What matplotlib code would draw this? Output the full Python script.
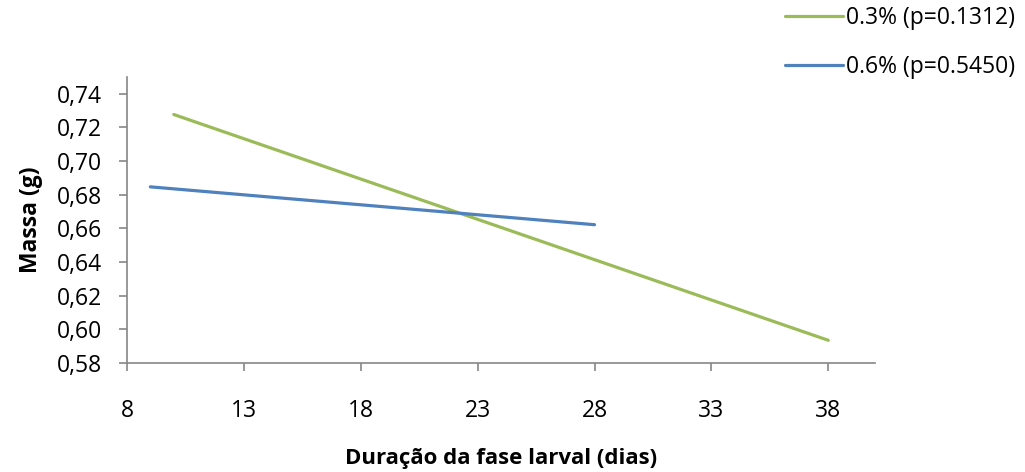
import matplotlib
matplotlib.use('Agg')
import matplotlib.pyplot as plt

# dados
x_03 = [10, 38]
y_03 = [0.7277, 0.5935]
x_06 = [9, 28]
y_06 = [0.6847, 0.6622]
labels = ['0.3% (p=0.1312)', '0.6% (p=0.5450)']
xticks = [8, 13, 18, 23, 28, 33, 38]
yticks = [0.58, 0.60, 0.62, 0.64, 0.66, 0.68, 0.70, 0.72, 0.74]

plt.rcParams['font.family'] = ['Open Sans', 'DejaVu Sans']

fig = plt.figure(figsize=(10.25, 4.72), dpi=100)
ax = fig.add_axes([0.1239, 0.2309, 0.7298, 0.6060])

l1, = ax.plot(x_03, y_03, color='#9BBB59', lw=2.3, solid_capstyle='round', label=labels[0])
l2, = ax.plot(x_06, y_06, color='#4F81BD', lw=2.3, solid_capstyle='round', label=labels[1])

ax.set_xlim(8, 40)
ax.set_ylim(0.58, 0.75)
ax.set_xticks(xticks)
ax.set_yticks(yticks)
ax.set_yticklabels([('%.2f' % v).replace('.', ',') for v in yticks])
ax.tick_params(axis='both', labelsize=16.5, color='#868686', length=6, width=1.2)
ax.tick_params(axis='x', pad=20)
ax.tick_params(axis='y', pad=12)

for s in ['top', 'right']:
    ax.spines[s].set_visible(False)
for s in ['left', 'bottom']:
    ax.spines[s].set_color('#868686')
    ax.spines[s].set_linewidth(1.2)

ax.set_xlabel('Duração da fase larval (dias)', fontsize=16, fontweight='bold', labelpad=18)
ax.set_ylabel('Massa (g)', fontsize=16.5, fontweight='bold', labelpad=10)

fig.legend(handles=[l1, l2], loc='upper left', bbox_to_anchor=(0.746, 1.03),
           frameon=False, fontsize=16.5, handlelength=2.5, handletextpad=0.15,
           labelspacing=1.05)

fig.savefig('out.png', dpi=100)
